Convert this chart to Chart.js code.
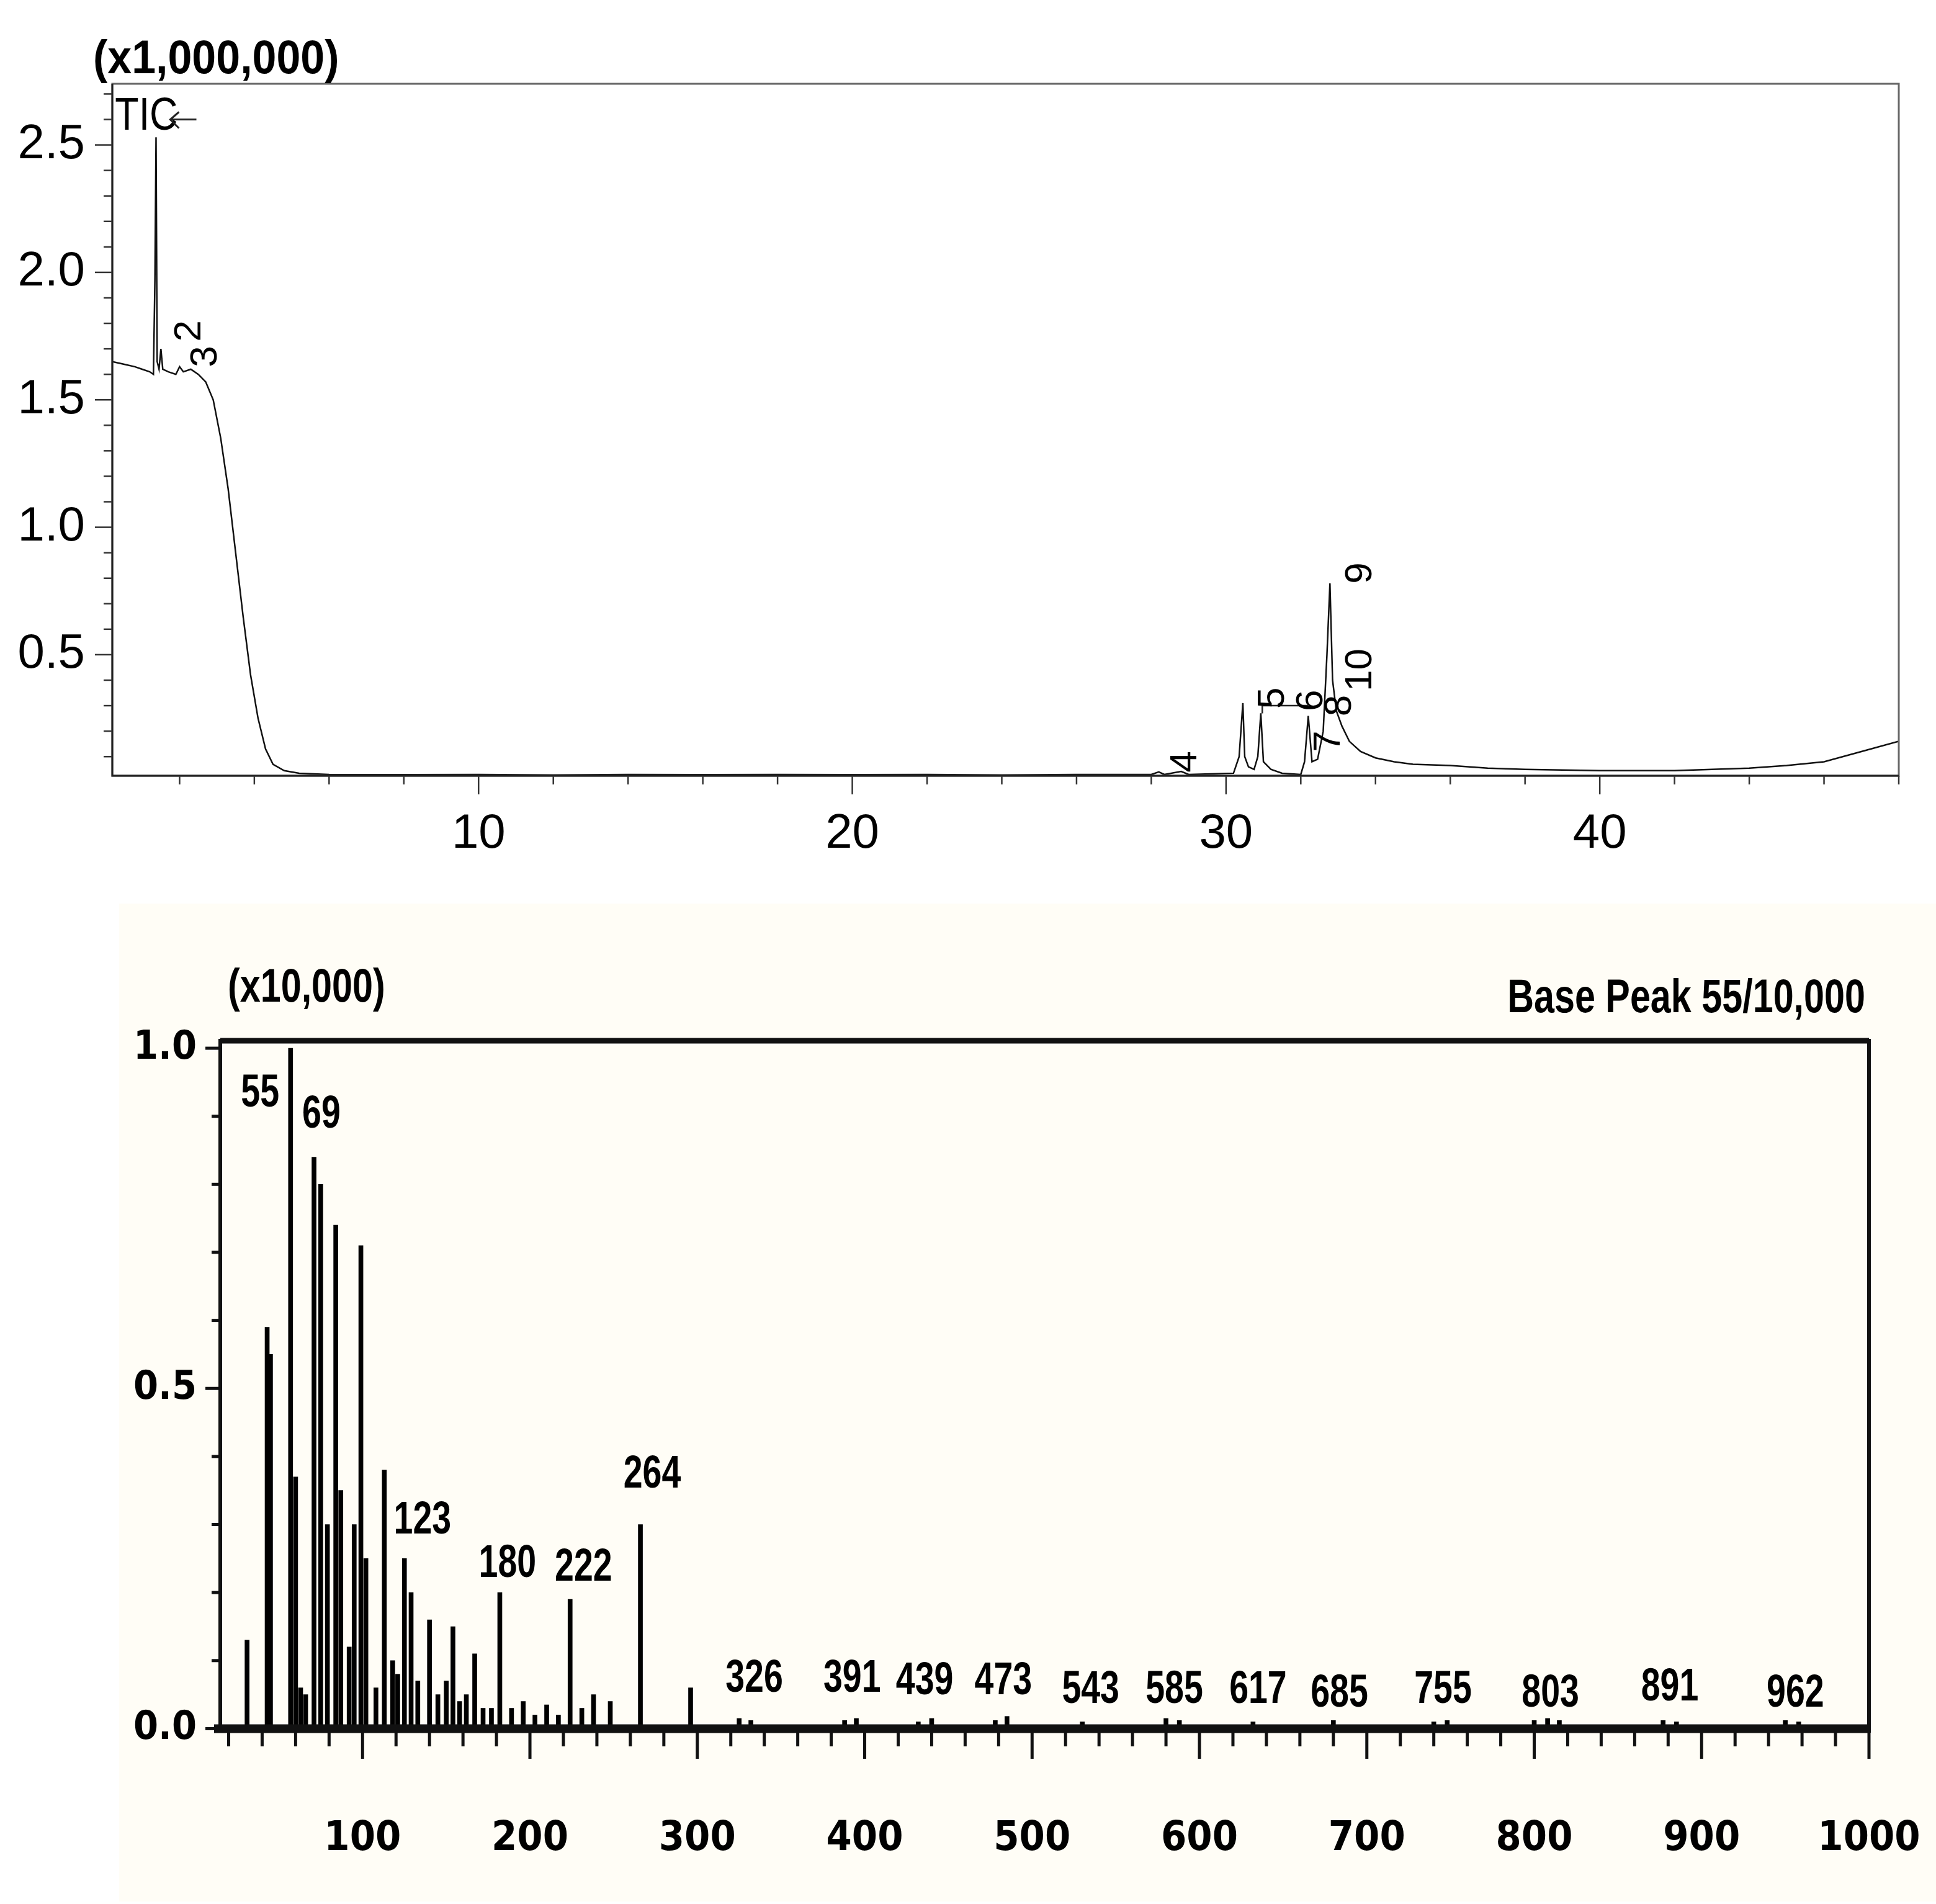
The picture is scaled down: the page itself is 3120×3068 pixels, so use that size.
<!DOCTYPE html>
<html>
<head>
<meta charset="utf-8">
<script src="https://cdn.jsdelivr.net/npm/chart.js@4.4.1/dist/chart.umd.min.js"></script>
<style>
  body { margin: 0; background: #fff; width: 3120px; height: 3068px; position: relative; overflow: hidden; }
  #tic { position: absolute; left: 0; top: 0; }
  #msBox { position: absolute; left: 192px; top: 1456px; width: 2928px; height: 1608px; background: #fffdf6; }
  #ms { position: absolute; left: 0; top: 0; }
</style>
</head>
<body>
<canvas id="tic" width="3120" height="1420"></canvas>
<div id="msBox"><canvas id="ms" width="2928" height="1608"></canvas></div>
<script>
// ---- TIC chromatogram (retention time in min, intensity x1,000,000)
const rtTime = [0.2, 0.5, 0.8, 1.0, 1.2, 1.3, 1.34, 1.37, 1.40, 1.45, 1.5, 1.55, 1.7, 1.9, 2.0, 2.1, 2.3, 2.5,
  2.7, 2.9, 3.1, 3.3, 3.5, 3.7, 3.9, 4.1, 4.3, 4.5, 4.8, 5.2, 6, 8, 10, 12, 14, 16, 18, 20, 22, 24, 26,
  28, 28.2, 28.35, 28.8, 29, 30.2, 30.35, 30.45, 30.5, 30.6, 30.75, 30.85, 30.93, 31.0, 31.2, 31.5, 32.0,
  32.1, 32.2, 32.3, 32.45, 32.6, 32.7, 32.78, 32.85, 32.95, 33.1, 33.3, 33.6, 34, 34.5, 35, 36, 37, 38,
  40, 42, 43, 44, 45, 46, 47, 48];
const ticValue = [1.65, 1.64, 1.63, 1.62, 1.61, 1.60, 1.97, 2.53, 1.65, 1.62, 1.70, 1.62, 1.61, 1.60, 1.63, 1.61, 1.62, 1.60,
  1.57, 1.50, 1.35, 1.15, 0.90, 0.65, 0.42, 0.25, 0.13, 0.07, 0.045, 0.035, 0.03, 0.029, 0.03, 0.028, 0.03, 0.029, 0.03, 0.029, 0.03, 0.028, 0.03,
  0.03, 0.04, 0.03, 0.042, 0.03, 0.035, 0.10, 0.31, 0.10, 0.06, 0.05, 0.10, 0.27, 0.08, 0.05, 0.035, 0.03,
  0.08, 0.26, 0.08, 0.09, 0.20, 0.50, 0.78, 0.40, 0.28, 0.22, 0.16, 0.12, 0.095, 0.08, 0.07, 0.065, 0.055, 0.05,
  0.045, 0.045, 0.05, 0.055, 0.065, 0.08, 0.12, 0.16];
const ticXTicks = [10, 20, 30, 40];
const ticYTicks = [0.5, 1.0, 1.5, 2.0, 2.5];
const ticPeakNames = ["2", "3", "4", "5", "6", "7", "8", "9", "10"];
const ticPeakX = [2.27, 2.71, 28.92, 31.26, 32.3, 32.75, 33.05, 33.6, 33.6];
const ticPeakY = [1.77, 1.67, 0.08, 0.33, 0.32, 0.16, 0.3, 0.82, 0.44];

// ---- Mass spectrum (m/z, intensity x10,000)
const mzValue = [31, 43, 45, 57, 60, 63, 66, 71, 75, 79, 84, 87, 92, 95, 99, 102, 108, 113, 118, 121, 125, 129, 133,
  140, 145, 150, 154, 158, 162, 167, 172, 177, 182, 189, 196, 203, 210, 217, 224, 231, 238, 248, 266, 296,
  325, 332, 388, 395, 432, 440, 478, 485, 530, 580, 588, 632, 680, 740, 748, 800, 808, 815, 877, 885, 950, 958];
const mzIntensity = [0.13, 0.59, 0.55, 1.0, 0.37, 0.06, 0.05, 0.84, 0.80, 0.30, 0.74, 0.35, 0.12, 0.30, 0.71, 0.25, 0.06, 0.38, 0.10, 0.08, 0.25, 0.20, 0.07,
  0.16, 0.05, 0.07, 0.15, 0.04, 0.05, 0.11, 0.03, 0.03, 0.20, 0.03, 0.04, 0.02, 0.035, 0.02, 0.19, 0.03, 0.05, 0.04, 0.30, 0.06,
  0.015, 0.012, 0.012, 0.015, 0.01, 0.015, 0.012, 0.018, 0.01, 0.015, 0.012, 0.01, 0.012, 0.01, 0.012, 0.012, 0.015, 0.012, 0.012, 0.01, 0.012, 0.01];
const msXTicks = [100, 200, 300, 400, 500, 600, 700, 800, 900, 1000];
const msYTicks = [0.0, 0.5, 1.0];
const msLabels = ["55", "69", "123", "180", "222", "264", "326", "391", "439", "473", "543", "585", "617", "685", "755", "803", "891", "962"];
const msLabelX = [38.8, 75.4, 135.8, 186.6, 232, 273, 334, 392.5, 435.8, 482.8, 535, 585, 635, 683.6, 745.5, 809.7, 881, 956];
const msLabelY = [0.933, 0.902, 0.305, 0.242, 0.236, 0.373, 0.073, 0.073, 0.069, 0.069, 0.056, 0.056, 0.056, 0.051, 0.056, 0.051, 0.06, 0.051];

const sans = "'Liberation Sans', Arial, sans-serif";
const narrow = "'Liberation Sans Narrow', 'DejaVu Sans Condensed', 'Liberation Sans', sans-serif";

// draws tick marks (minor + major) outside the axes
function tickMarks(ctx, scale, step, majorEvery, minorLen, majorLen, width, color) {
  ctx.save();
  ctx.strokeStyle = color;
  ctx.lineWidth = width;
  const start = Math.ceil(scale.min / step - 1e-9);
  const end = Math.floor(scale.max / step + 1e-9);
  for (let i = start; i <= end; i++) {
    const v = i * step;
    const len = (i % majorEvery === 0) ? majorLen : minorLen;
    const p = scale.getPixelForValue(v);
    ctx.beginPath();
    if (scale.axis === "x") {
      ctx.moveTo(p, scale.top);
      ctx.lineTo(p, scale.top + len);
    } else {
      ctx.moveTo(scale.right, p);
      ctx.lineTo(scale.right - len, p);
    }
    ctx.stroke();
  }
  ctx.restore();
}

// condensed look: squeeze text horizontally
function narrowText(ctx, text, px, py, squeeze) {
  ctx.save();
  ctx.translate(px, py);
  ctx.scale(squeeze, 1);
  ctx.fillText(text, 0, 0);
  ctx.restore();
}

function fixX(height) {
  return (s) => { s.height = height; s.paddingLeft = 0; s.paddingRight = 0; };
}
function fixY(width) {
  return (s) => { s.width = width; s.paddingTop = 0; s.paddingBottom = 0; };
}

const ticDecor = {
  id: "ticDecor",
  afterDraw(chart) {
    const { ctx, chartArea: a, scales: { x, y } } = chart;
    ctx.save();
    ctx.strokeStyle = "#666";
    ctx.lineWidth = 3;
    ctx.strokeRect(a.left, a.top, a.right - a.left, a.bottom - a.top);
    ctx.strokeStyle = "#222";
    ctx.beginPath();
    ctx.moveTo(a.left, a.top); ctx.lineTo(a.left, a.bottom); ctx.lineTo(a.right, a.bottom);
    ctx.stroke();
    tickMarks(ctx, x, 2, 5, 14, 30, 2.5, "#333");
    tickMarks(ctx, y, 0.1, 5, 14, 28, 2.5, "#333");

    ctx.fillStyle = "#000";
    ctx.font = "bold 76px " + sans;
    ctx.textBaseline = "alphabetic";
    narrowText(ctx, "(x1,000,000)", 150, 118, 0.92);
    ctx.font = "74px " + sans;
    narrowText(ctx, "TIC", x.getPixelForValue(0.27), y.getPixelForValue(2.56), 0.85);
    // arrow
    const ax1 = x.getPixelForValue(2.45), ax0 = x.getPixelForValue(1.75), ay = y.getPixelForValue(2.6);
    ctx.lineWidth = 3;
    ctx.beginPath();
    ctx.moveTo(ax1, ay); ctx.lineTo(ax0, ay);
    ctx.moveTo(ax0 + 14, ay - 12); ctx.lineTo(ax0, ay); ctx.lineTo(ax0 + 14, ay + 14);
    ctx.stroke();
    // bracket between 5 and 6
    ctx.lineWidth = 2.5;
    ctx.beginPath();
    ctx.moveTo(x.getPixelForValue(30.97), y.getPixelForValue(0.27));
    ctx.lineTo(x.getPixelForValue(30.97), y.getPixelForValue(0.30));
    ctx.lineTo(x.getPixelForValue(32.2), y.getPixelForValue(0.30));
    ctx.stroke();
    // peak numbers
    ctx.font = "62px " + sans;
    ctx.textAlign = "center";
    ctx.textBaseline = "middle";
    ticPeakNames.forEach((n, i) => {
      ctx.save();
      ctx.translate(x.getPixelForValue(ticPeakX[i]), y.getPixelForValue(ticPeakY[i]));
      ctx.rotate(-Math.PI / 2);
      ctx.fillText(n, 0, 0);
      ctx.restore();
    });
    ctx.restore();
  }
};

new Chart(document.getElementById("tic"), {
  type: "line",
  data: {
    datasets: [{
      data: rtTime.map((t, i) => ({ x: t, y: ticValue[i] })),
      borderColor: "#111",
      borderWidth: 2.5,
      pointRadius: 0,
      tension: 0
    }]
  },
  options: {
    responsive: false,
    devicePixelRatio: 1,
    animation: false,
    layout: { padding: { left: 0, top: 135, right: 60, bottom: 0 } },
    plugins: { legend: { display: false }, tooltip: { enabled: false } },
    scales: {
      x: {
        type: "linear", min: 0.2, max: 48,
        afterBuildTicks: (s) => { s.ticks = ticXTicks.map(v => ({ value: v })); },
        afterFit: fixX(170),
        grid: { display: false },
        border: { display: false },
        ticks: { color: "#000", padding: 40, font: { size: 78, family: sans } }
      },
      y: {
        type: "linear", min: 0.025, max: 2.74,
        afterBuildTicks: (s) => { s.ticks = ticYTicks.map(v => ({ value: v })); },
        afterFit: fixY(181),
        grid: { display: false },
        border: { display: false },
        ticks: { color: "#000", padding: 36, callback: (v) => v.toFixed(1), font: { size: 78, family: sans } }
      }
    }
  },
  plugins: [ticDecor]
});

const msDecor = {
  id: "msDecor",
  afterDraw(chart) {
    const { ctx, chartArea: a, scales: { x, y } } = chart;
    ctx.save();
    ctx.strokeStyle = "#111";
    ctx.lineWidth = 6;
    ctx.beginPath();
    ctx.moveTo(a.left, a.bottom); ctx.lineTo(a.left, a.top); ctx.lineTo(a.right, a.top); ctx.lineTo(a.right, a.bottom);
    ctx.stroke();
    ctx.lineWidth = 9;
    ctx.beginPath();
    ctx.moveTo(a.left, a.top); ctx.lineTo(a.right, a.top);
    ctx.stroke();
    ctx.lineWidth = 14;
    ctx.beginPath();
    ctx.moveTo(a.left - 10, y.getPixelForValue(0)); ctx.lineTo(a.right, y.getPixelForValue(0));
    ctx.stroke();
    tickMarks(ctx, x, 20, 5, 22, 42, 5, "#111");
    tickMarks(ctx, y, 0.1, 5, 14, 24, 5, "#111");

    ctx.fillStyle = "#000";
    ctx.textBaseline = "alphabetic";
    ctx.font = "bold 76px " + sans;
    ctx.textAlign = "left";
    narrowText(ctx, "(x10,000)", 175, 158, 0.78);
    ctx.textAlign = "right";
    narrowText(ctx, "Base Peak 55/10,000", a.right - 6, 175, 0.78);
    ctx.textAlign = "center";
    ctx.textBaseline = "middle";
    ctx.font = "bold 74px " + sans;
    msLabels.forEach((t, i) => {
      narrowText(ctx, t, x.getPixelForValue(msLabelX[i]), y.getPixelForValue(msLabelY[i]), 0.75);
    });
    ctx.restore();
  }
};

new Chart(document.getElementById("ms"), {
  type: "bar",
  data: {
    datasets: [{
      data: mzValue.map((m, i) => ({ x: m, y: mzIntensity[i] })),
      backgroundColor: "#000",
      barThickness: 7,
      borderWidth: 0
    }]
  },
  options: {
    responsive: false,
    devicePixelRatio: 1,
    animation: false,
    layout: { padding: { left: 0, top: 221, right: 108, bottom: 0 } },
    plugins: { legend: { display: false }, tooltip: { enabled: false } },
    scales: {
      x: {
        type: "linear", min: 15, max: 1000, offset: false,
        afterBuildTicks: (s) => { s.ticks = msXTicks.map(v => ({ value: v })); },
        afterFit: fixX(272),
        grid: { display: false },
        border: { display: false },
        ticks: { color: "#000", padding: 124, maxRotation: 0, callback: (v) => String(v), font: { size: 66, weight: "bold", family: narrow } }
      },
      y: {
        type: "linear", min: -0.006, max: 1.011,
        afterBuildTicks: (s) => { s.ticks = msYTicks.map(v => ({ value: v })); },
        afterFit: fixY(163),
        grid: { display: false },
        border: { display: false },
        ticks: { color: "#000", padding: 30, callback: (v) => v.toFixed(1), font: { size: 64, weight: "bold", family: narrow } }
      }
    }
  },
  plugins: [msDecor]
});
</script>
</body>
</html>
